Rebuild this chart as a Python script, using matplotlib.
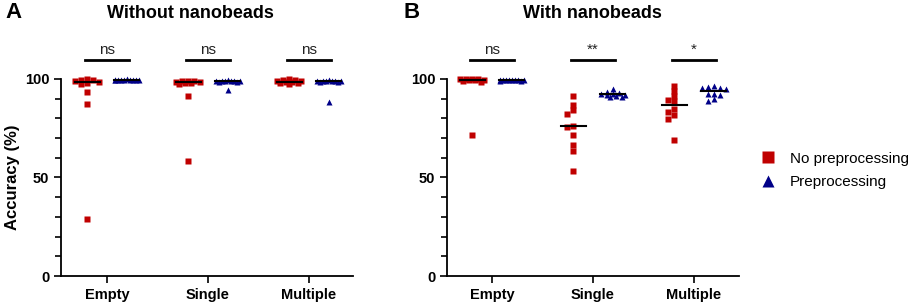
import numpy as np
import matplotlib
matplotlib.use('Agg')
import matplotlib.pyplot as plt
from matplotlib.lines import Line2D

plt.rcParams['font.family'] = ['Liberation Sans', 'DejaVu Sans']

groups = ['Empty', 'Single', 'Multiple']

# panel A: without nanobeads
a_none = [
    [100, 99.6, 99.5, 99, 98.5, 98, 97.5, 93.4, 87.5, 29],
    [99.2, 99, 98.8, 98.5, 98.5, 98, 98, 97.2, 91.5, 58.5],
    [99.8, 99.5, 99.3, 99, 98.8, 98.6, 98.3, 98, 97.8, 97.4],
]
a_pre = [
    [99.8, 99.7, 99.7, 99.6, 99.6, 99.5, 99.5, 99.5, 99.4, 99.4],
    [99.3, 99.2, 99.1, 99, 99, 98.9, 98.8, 98.7, 98.6, 94.2],
    [99.3, 99.2, 99.1, 99, 99, 98.9, 98.8, 98.7, 98.6, 88.3],
]
a_sig = ['ns', 'ns', 'ns']

# panel B: with nanobeads
b_none = [
    [100, 100, 99.9, 99.8, 99.6, 99.5, 99.3, 99, 98.6, 71.7],
    [91.4, 86.8, 84.3, 82.1, 76.3, 75.8, 71.6, 66.3, 63.6, 53.1],
    [96.4, 93.9, 91.5, 89.5, 89, 84.9, 83, 81.5, 79.9, 69],
]
b_pre = [
    [99.7, 99.6, 99.6, 99.5, 99.5, 99.4, 99.4, 99.3, 99.2, 99.1],
    [95, 93.5, 93, 92.5, 92.5, 92, 92, 91.5, 91, 91],
    [96.4, 96, 95.3, 95.3, 94.8, 92.6, 92.5, 91.8, 90, 88.8],
]
b_sig = ['ns', '**', '*']

red = '#c00000'
navy = '#000088'


def swarm(vals, center, ax, size_px=4.5, step=3.0, kmax=4):
    # narrow beeswarm: nudge sideways in pixels, overlap allowed once it gets crowded
    trans = ax.transData
    py = [trans.transform((center, v))[1] for v in vals]
    order = np.argsort(vals)[::-1]
    cands = [0.0]
    for k in range(1, kmax + 1):
        cands += [-k * step, k * step]
    placed = []
    offs = np.zeros(len(vals))
    for i in order:
        best, best_score = 0.0, None
        for c in cands:
            score = 0.0
            for (ox, oy) in placed:
                dx = size_px - abs(ox - c)
                dy = size_px - abs(oy - py[i])
                if dx > 0 and dy > 0:
                    score += dx * dy
            if best_score is None or score < best_score - 1e-9:
                best, best_score = c, score
            if score == 0:
                best = c
                break
        offs[i] = best
        placed.append((best, py[i]))
    x0 = trans.transform((center, 0))[0]
    return [trans.inverted().transform((x0 + o, 0))[0] for o in offs]


fig = plt.figure(figsize=(9.13, 3.05), dpi=100)
axA = fig.add_axes([61 / 913, 29 / 305, 292 / 913, 232.5 / 305])
axB = fig.add_axes([447 / 913, 29 / 305, 292 / 913, 232.5 / 305])

for ax, none, pre, sig, xl in [(axA, a_none, a_pre, a_sig, (-0.455, 2.436)),
                               (axB, b_none, b_pre, b_sig, (-0.445, 2.445))]:
    ax.set_xlim(*xl)
    ax.set_ylim(0, 118)
    for s in ['top', 'right']:
        ax.spines[s].set_visible(False)
    ax.spines['left'].set_bounds(0, 100)
    ax.spines['left'].set_linewidth(1.3)
    ax.spines['bottom'].set_linewidth(1.3)
    ax.set_yticks([0, 50, 100])
    ax.set_yticks(np.arange(0, 101, 10), minor=True)
    ax.tick_params(axis='y', which='major', length=5, width=1.2, labelsize=10.5)
    ax.tick_params(axis='y', which='minor', length=4, width=1.2)
    ax.set_xticks(range(3))
    ax.set_xticklabels(groups, fontsize=10.5, fontweight='bold')
    ax.tick_params(axis='x', length=5, width=1.2, pad=4)
    for lab in ax.get_yticklabels():
        lab.set_fontweight('bold')

    for g in range(3):
        xr = swarm(none[g], g - 0.195, ax)
        xb = swarm(pre[g], g + 0.195, ax)
        ax.plot(xr, none[g], 's', color=red, ms=4, mec='none', zorder=3)
        ax.plot(xb, pre[g], '^', color=navy, ms=4, mec='none', zorder=3)
        ax.plot([g - 0.195 - 0.125, g - 0.195 + 0.125], [np.median(none[g])] * 2,
                color='black', lw=1.5, zorder=4)
        ax.plot([g + 0.195 - 0.125, g + 0.195 + 0.125], [np.median(pre[g])] * 2,
                color='black', lw=1.5, zorder=4)
        ax.plot([g - 0.215, g + 0.215], [109.6, 109.6], color='black', lw=2,
                clip_on=False)
        ax.text(g, 111.3, sig[g], ha='center', va='bottom', fontsize=11,
                color='#222222')

axA.set_ylabel('Accuracy (%)', fontsize=12, fontweight='bold')
axA.yaxis.set_label_coords(-41 / 292, 0.5 * 100 / 118)

fig.text(190 / 913, 1 - 13 / 305, 'Without nanobeads', ha='center', va='center',
         fontsize=13, fontweight='bold')
fig.text(592 / 913, 1 - 13 / 305, 'With nanobeads', ha='center', va='center',
         fontsize=13, fontweight='bold')
fig.text(5 / 913, 1 - 13 / 305, 'A', ha='left', va='center', fontsize=16,
         fontweight='bold')
fig.text(403 / 913, 1 - 13 / 305, 'B', ha='left', va='center', fontsize=16,
         fontweight='bold')

handles = [Line2D([], [], ls='none', marker='s', color=red, ms=8, mec='none'),
           Line2D([], [], ls='none', marker='^', color=navy, ms=8, mec='none')]
fig.legend(handles, ['No preprocessing', 'Preprocessing'], loc='center left',
           bbox_to_anchor=(760 / 913, 1 - 170.5 / 305), frameon=False,
           fontsize=11, handlelength=1, handletextpad=0.96, labelspacing=0.63,
           borderpad=0, borderaxespad=0)

fig.savefig('out.png', dpi=100)
